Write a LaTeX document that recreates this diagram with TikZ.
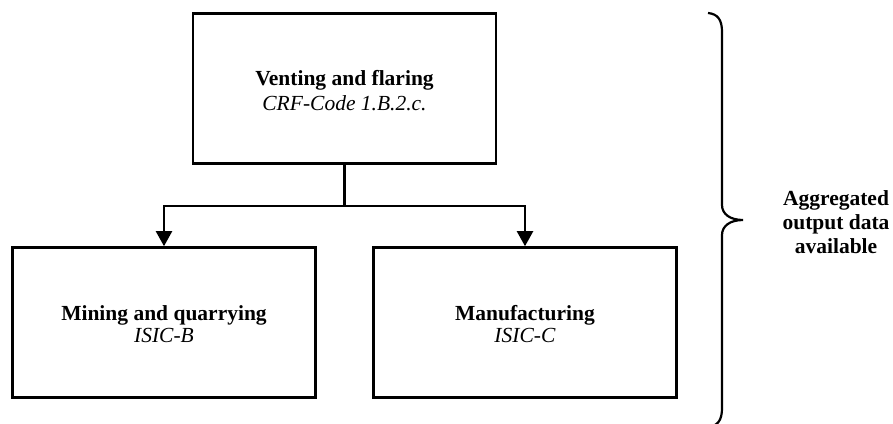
\documentclass[tikz,border=0pt]{standalone}
\usepackage{fontspec}
\setmainfont{Liberation Serif}
\usetikzlibrary{arrows.meta}
\begin{document}
\begin{tikzpicture}[x=1pt,y=-1pt,
  boxnode/.style={draw=black,line width=2.6pt,minimum width=303pt,minimum height=150pt,inner sep=0pt},
  txt/.style={align=center,font=\fontsize{21.5}{25}\selectfont,inner sep=0pt},
  conn/.style={line width=2.2pt},
  arr/.style={conn,-{Triangle[width=16pt,length=15pt]}}]
\useasboundingbox (0,0) rectangle (893,423);
\fill[white] (0,0) rectangle (893,423);
\node[boxnode] (top) at (344.5,88.5) {};
\node[boxnode] (left) at (164,322.5) {};
\node[boxnode] (right) at (525,322.5) {};
\node[txt] (toptxt) at (344.5,91) {\textbf{Venting and flaring}\\\textit{CRF-Code 1.B.2.c.}};
\node[txt,font=\fontsize{21.5}{22.5}\selectfont] (lefttxt) at (164,324) {\textbf{Mining and quarrying}\\\textit{ISIC-B}};
\node[txt,font=\fontsize{21.5}{22.5}\selectfont] (righttxt) at (525,324) {\textbf{Manufacturing}\\\textit{ISIC-C}};
\coordinate (j) at (344.5,206);
\draw[conn] (top.south) -- (j);
\draw[arr] (j) -| (left.north);
\draw[arr] (j) -| (right.north);
\begin{scope}
\clip (0,0) rectangle (893,423);
\draw[line width=2.2pt] (708,13) .. controls (718,14) and (722,20) .. (722,32) -- (722,205)
  .. controls (722,214) and (730,220) .. (743,220)
  .. controls (730,220) and (722,226) .. (722,235) -- (722,408)
  .. controls (722,420) and (718,426) .. (708,427);
\end{scope}
\node[txt,font=\fontsize{21.5}{24}\selectfont\bfseries] (agg) at (836,222) {Aggregated\\output data\\available};
\end{tikzpicture}
\end{document}
